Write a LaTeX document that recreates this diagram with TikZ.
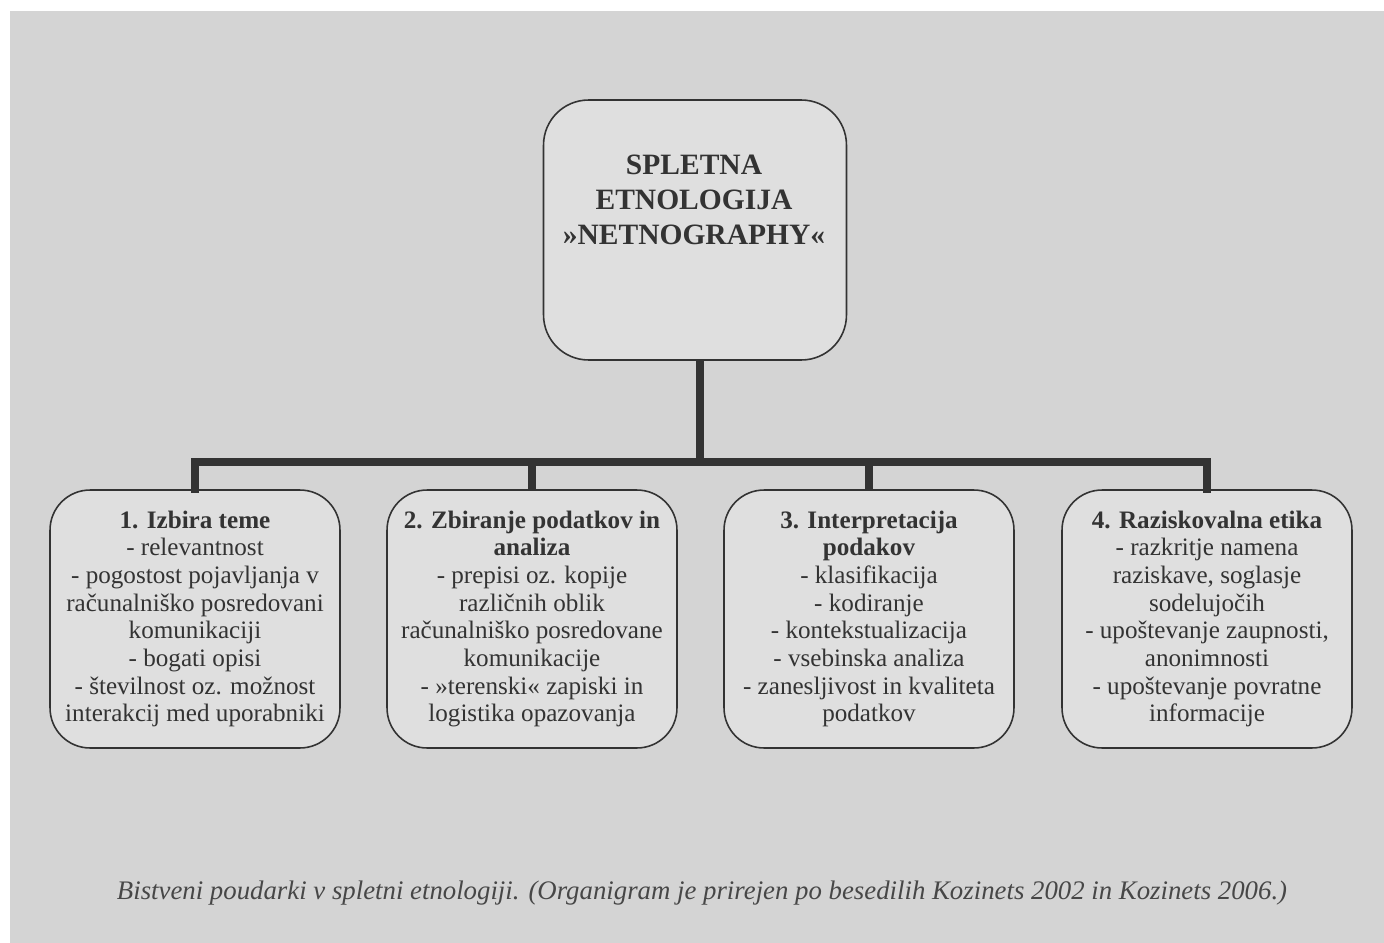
\documentclass[tikz,border=0pt]{standalone}
\usepackage{fontspec}
\setmainfont{Liberation Serif}
\usepackage{xcolor}
\usetikzlibrary{positioning}
\definecolor{pagegray}{HTML}{D4D4D4}
\definecolor{boxgray}{HTML}{DFDFDF}
\definecolor{inkgray}{HTML}{333333}
\begin{document}
\begin{tikzpicture}[x=0.02cm, y=-0.02cm,
  rootbox/.style={rectangle, rounded corners=0.9cm, draw=inkgray, line width=0.9pt, fill=boxgray, minimum width=6.06cm, minimum height=5.2cm},
  title/.style={align=center, text=inkgray, font=\fontsize{16.8pt}{19.9pt}\selectfont\bfseries},
  stepbox/.style={rectangle, rounded corners=0.8cm, draw=inkgray, line width=0.9pt, fill=boxgray, minimum width=5.8cm, minimum height=5.16cm, align=center, text=inkgray, font=\fontsize{14.3pt}{15.76pt}\selectfont},
  link/.style={draw=inkgray, line width=4pt}
]
\useasboundingbox (0,0) rectangle (1384,943);
\fill[white] (0,0) rectangle (1384,943);
\fill[pagegray] (10,11) rectangle (1384,943);

\node[rootbox] (root) at (695,230) {};
\node[title] (rootlabel) at (694,200) {SPLETNA\\ETNOLOGIJA\\»NETNOGRAPHY«};

\node[stepbox] (s1) at (195,619) {\textbf{1. Izbira teme}\\- relevantnost\\- pogostost pojavljanja v\\računalniško posredovani\\komunikaciji\\- bogati opisi\\- številnost oz. možnost\\interakcij med uporabniki};
\node[stepbox] (s2) at (532,619) {\textbf{2. Zbiranje podatkov in}\\\textbf{analiza}\\- prepisi oz. kopije\\različnih oblik\\računalniško posredovane\\komunikacije\\- »terenski« zapiski in\\logistika opazovanja};
\node[stepbox] (s3) at (869,619) {\textbf{3. Interpretacija}\\\textbf{podakov}\\- klasifikacija\\- kodiranje\\- kontekstualizacija\\- vsebinska analiza\\- zanesljivost in kvaliteta\\podatkov};
\node[stepbox] (s4) at (1207,619) {\textbf{4. Raziskovalna etika}\\- razkritje namena\\raziskave, soglasje\\sodelujočih\\- upoštevanje zaupnosti,\\anonimnosti\\- upoštevanje povratne\\informacije};

\coordinate (hub) at (700,462);

% the tree lines
\draw[link] (root.south -| hub) -- (hub);
\draw[link, line cap=rect] (s1.north) -- (s1.north |- hub) -- (s4.north |- hub) -- (s4.north);
\draw[link] (s2.north) -- (s2.north |- hub);
\draw[link] (s3.north) -- (s3.north |- hub);

\node[text=inkgray!90, font=\fontsize{15.25pt}{18pt}\selectfont\itshape] (caption) at (702,893) {Bistveni poudarki v spletni etnologiji. (Organigram je prirejen po besedilih Kozinets 2002 in Kozinets 2006.)};
\end{tikzpicture}
\end{document}
